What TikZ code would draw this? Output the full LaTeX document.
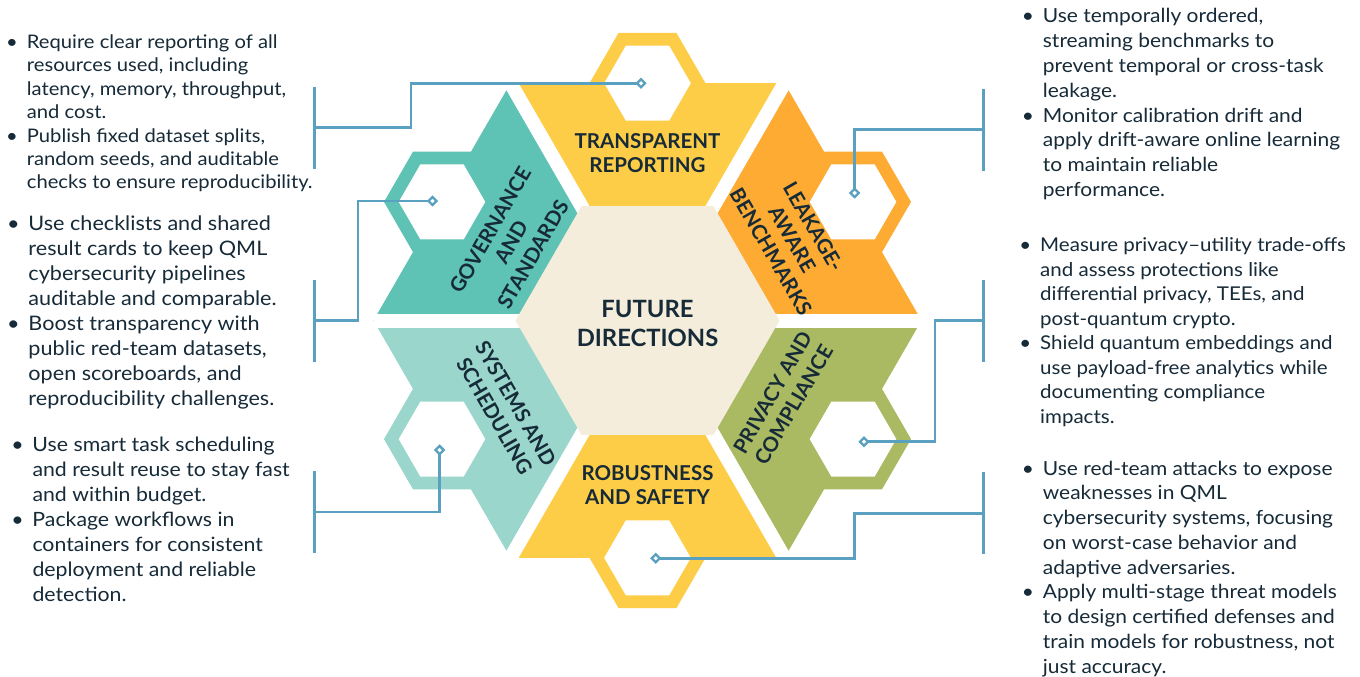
\documentclass[tikz,border=0pt]{standalone}
\usepackage{fontspec}
\setmainfont{Lato}
\newfontfamily\bodyfont{Lato}[FakeStretch=1.08]
\usetikzlibrary{shapes.geometric}
\definecolor{cteal}{RGB}{94,194,180}
\definecolor{clteal}{RGB}{154,214,204}
\definecolor{cyellow}{RGB}{254,205,72}
\definecolor{corange}{RGB}{253,171,51}
\definecolor{colive}{RGB}{170,186,99}
\definecolor{cbeige}{RGB}{244,237,220}
\definecolor{cline}{RGB}{90,160,192}
\definecolor{cnavy}{RGB}{22,42,56}
\newcommand\hexat[3]{({#1+#3},{#2}) -- ({#1+#3/2},{#2+0.8660254*#3}) -- ({#1-#3/2},{#2+0.8660254*#3}) -- ({#1-#3},{#2}) -- ({#1-#3/2},{#2-0.8660254*#3}) -- ({#1+#3/2},{#2-0.8660254*#3}) -- cycle}
\newcommand\bul{\llap{\makebox[30pt][c]{\textbullet}}}
\begin{document}
\begin{tikzpicture}[x=1pt,y=-1pt,
  gapline/.style={white,line width=14pt,line cap=butt},
  conn/.style={cline,line width=2.7pt},
  dia/.style={diamond,draw=cline,fill=white,line width=2.3pt,minimum width=9pt,minimum height=9pt,inner sep=0pt},
  body/.style={inner sep=0pt,text=cnavy,anchor=base west},
  head/.style={inner sep=0pt,text=cnavy,font=\bfseries\fontsize{20.5}{24.5}\selectfont}]
\useasboundingbox (0,0) rectangle (1360,677);
\fill[white] (0,0) rectangle (1360,677);
% geometry
\coordinate (C) at (647.5,320.5);
\coordinate (V0) at (921.5,320.5);
\coordinate (V60) at (784.5,83.2);
\coordinate (V120) at (510.5,83.2);
\coordinate (V180) at (373.5,320.5);
\coordinate (V240) at (510.5,557.8);
\coordinate (V300) at (784.5,557.8);
% sectors
\fill[cyellow] (C) -- (V60) -- (V120) -- cycle;
\fill[cyellow] \hexat{647.5}{83.2}{58};
\fill[cteal] (C) -- (V120) -- (V180) -- cycle;
\fill[cteal] \hexat{442}{201.9}{58};
\fill[clteal] (C) -- (V180) -- (V240) -- cycle;
\fill[clteal] \hexat{442}{439.1}{58};
\fill[cyellow] (C) -- (V240) -- (V300) -- cycle;
\fill[cyellow] \hexat{647.5}{557.8}{58};
\fill[colive] (C) -- (V300) -- (V0) -- cycle;
\fill[colive] \hexat{853}{439.1}{58};
\fill[corange] (C) -- (V0) -- (V60) -- cycle;
\fill[corange] \hexat{853}{201.9}{58};
% gaps
\draw[gapline] (V0) -- (V180);
\draw[gapline] (V60) -- (V240);
\draw[gapline] (V120) -- (V300);
% centre
\fill[cbeige] \hexat{647.5}{320.5}{132};
% inner white hexes
\fill[white] \hexat{647.5}{83.2}{43.3};
\fill[white] \hexat{442}{201.9}{43.3};
\fill[white] \hexat{442}{439.1}{43.3};
\fill[white] \hexat{647.5}{557.8}{43.3};
\fill[white] \hexat{853}{439.1}{43.3};
\fill[white] \hexat{853}{201.9}{43.3};
% bracket points
\coordinate (b1) at (314.5,127.5);
\coordinate (b2) at (314.5,320.5);
\coordinate (b3) at (314.5,512);
\coordinate (b4) at (983.3,129.5);
\coordinate (b5) at (983.3,320.5);
\coordinate (b6) at (983.3,513.3);
\coordinate (k1) at (411,83.2);
\coordinate (k2) at (358,201);
\coordinate (k5) at (935,441.7);
\coordinate (k6) at (854.6,558.3);
% brackets
\foreach \b in {b1,b2,b3,b4,b5,b6}{\draw[conn] (\b) ++(0,-41) -- ++(0,82);}
% connectors
\draw[conn] (641,83.2) -- (k1) |- (b1);
\draw[conn] (432.5,201) -- (k2) |- (b2);
\draw[conn] (439.6,450) |- (b3);
\draw[conn] (854.6,193) |- (b4);
\draw[conn] (864,441.7) -- (k5) |- (b5);
\draw[conn] (655.7,558.3) -- (k6) |- (b6);
\node[dia] (d1) at (641,83.2) {};
\node[dia] (d2) at (432.5,201) {};
\node[dia] (d3) at (439.6,450) {};
\node[dia] (d4) at (854.6,193) {};
\node[dia] (d5) at (864,441.7) {};
\node[dia] (d6) at (655.7,558.3) {};
% headings
\node[head,anchor=base] (h1) at (647.5,148) {\begin{tabular}[t]{@{}c@{}}TRANSPARENT\\REPORTING\end{tabular}};
\node[head,anchor=base,font=\bfseries\fontsize{23.8}{28.3}\selectfont] (h0) at (647.5,317.7) {\begin{tabular}[t]{@{}c@{}}FUTURE\\DIRECTIONS\end{tabular}};
\node[head,anchor=base] (h4) at (647.5,480) {\begin{tabular}[t]{@{}c@{}}ROBUSTNESS\\AND SAFETY\end{tabular}};
\node[head,rotate=60] (h2) at (514,243.5) {\begin{tabular}{@{}c@{}}GOVERNANCE\\AND\\STANDARDS\end{tabular}};
\node[head,rotate=-60] (h6) at (790,240.5) {\begin{tabular}{@{}c@{}}LEAKAGE-\\AWARE\\BENCHMARKS\end{tabular}};
\node[head,rotate=-60] (h3) at (503,411) {\begin{tabular}{@{}c@{}}SYSTEMS AND\\SCHEDULING\end{tabular}};
\node[head,rotate=60] (h5) at (785.6,400) {\begin{tabular}{@{}c@{}}PRIVACY AND\\COMPLIANCE\end{tabular}};
% body text
\node[body,font=\bodyfont\fontsize{18.7}{23.45}\selectfont] (t1) at (26.7,48.3) {\begin{tabular}[t]{@{}l@{}}
\bul Require clear reporting of all\\
resources used, including\\
latency, memory, throughput,\\
and cost.\\
\bul Publish fixed dataset splits,\\
random seeds, and auditable\\
checks to ensure reproducibility.\end{tabular}};
\node[body,font=\bodyfont\fontsize{20}{25}\selectfont] (t2) at (28.3,230) {\begin{tabular}[t]{@{}l@{}}
\bul Use checklists and shared\\
result cards to keep QML\\
cybersecurity pipelines\\
auditable and comparable.\\
\bul Boost transparency with\\
public red-team datasets,\\
open scoreboards, and\\
reproducibility challenges.\end{tabular}};
\node[body,font=\bodyfont\fontsize{19.7}{25}\selectfont] (t3) at (32.3,451.7) {\begin{tabular}[t]{@{}l@{}}
\bul Use smart task scheduling\\
and result reuse to stay fast\\
and within budget.\\
\bul Package workflows in\\
containers for consistent\\
deployment and reliable\\
detection.\end{tabular}};
\node[body,font=\bodyfont\fontsize{19.4}{24.86}\selectfont] (t4) at (1042.7,22.7) {\begin{tabular}[t]{@{}l@{}}
\bul Use temporally ordered,\\
streaming benchmarks to\\
prevent temporal or cross-task\\
leakage.\\
\bul Monitor calibration drift and\\
apply drift-aware online learning\\
to maintain reliable\\
performance.\end{tabular}};
\node[body,font=\bodyfont\fontsize{19}{24.5}\selectfont] (t5) at (1040,251.7) {\begin{tabular}[t]{@{}l@{}}
\bul Measure privacy–utility trade-offs\\
and assess protections like\\
differential privacy, TEEs, and\\
post-quantum crypto.\\
\bul Shield quantum embeddings and\\
use payload-free analytics while\\
documenting compliance\\
impacts.\end{tabular}};
\node[body,font=\bodyfont\fontsize{19.4}{24.76}\selectfont] (t6) at (1042.7,475) {\begin{tabular}[t]{@{}l@{}}
\bul Use red-team attacks to expose\\
weaknesses in QML\\
cybersecurity systems, focusing\\
on worst-case behavior and\\
adaptive adversaries.\\
\bul Apply multi-stage threat models\\
to design certified defenses and\\
train models for robustness, not\\
just accuracy.\end{tabular}};
\end{tikzpicture}
\end{document}
